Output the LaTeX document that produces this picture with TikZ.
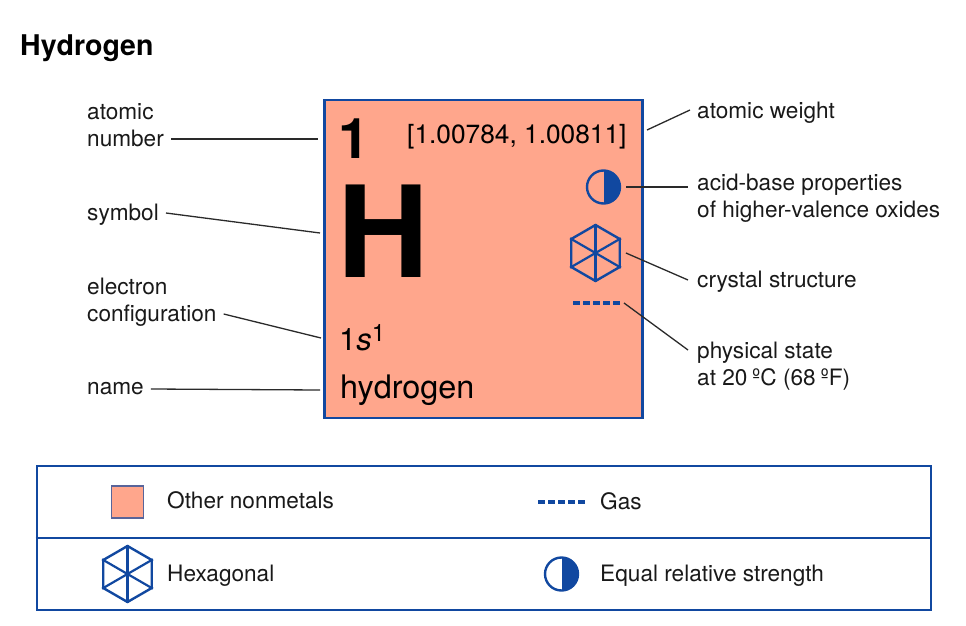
\documentclass[tikz,border=0pt]{standalone}
\usepackage{fontspec}
\setmainfont{TeX Gyre Heros}
\usetikzlibrary{shapes.geometric}
\definecolor{cardblue}{HTML}{1148A0}
\definecolor{cardfill}{HTML}{FFA68C}
\definecolor{leadergray}{HTML}{2A2A2A}
\begin{document}
\begin{tikzpicture}[x=1pt, y=-1pt,
    label/.style ={anchor=west, inner sep=0pt, align=left, text=black!90,
      font=\fontsize{22.6}{27}\selectfont},
    cardtext/.style ={anchor=base west, inner sep=0pt},
    leader/.style ={draw=leadergray, line width=1.3pt},
    box/.style ={draw=cardblue, line width=2.8pt},
    hexicon/.style ={regular polygon, regular polygon sides=6, shape border rotate=30,
      draw=cardblue, line width=2.4pt, minimum size=56pt, inner sep=0pt},
    spoke/.style ={draw=cardblue, line width=2.2pt},
    halficon/.style ={circle, draw=cardblue, line width=2.4pt, minimum size=33pt,
      inner sep=0pt, path picture={\fill[cardblue] (path picture bounding box.south)
      rectangle (path picture bounding box.north east);}},
    gasline/.style ={draw=cardblue, line width=3.6pt, dash pattern=on 6.5pt off 3.5pt}]
   \useasboundingbox (0,0) rectangle (966,626);

   % title
   \node[cardtext, font=\fontsize{28.5}{30}\bfseries\selectfont] (title) at (20,56) {Hydrogen};

   % element card
   \node[box, fill=cardfill, minimum size=318pt, inner sep=0pt] (card) at (483.5,259) {};
   \node[cardtext, font=\fontsize{56}{60}\bfseries\selectfont] (number) at (338,158) {1};
   \node[cardtext, font=\fontsize{26.3}{30}\selectfont] (weight) at (407,143) {[1.00784, 1.00811]};
   \node[cardtext, font=\fontsize{127}{130}\bfseries\selectfont] (symbol) at (337,277) {H};
   \node[cardtext, font=\fontsize{31}{34}\selectfont] (config) at (339,350) {1\textit{s}\raisebox{9pt}{\fontsize{24}{26}\selectfont 1}};
   \node[cardtext, font=\fontsize{32.4}{34}\selectfont] (name) at (340,398) {hydrogen};
   \node[halficon] (halfcard) at (603.5,187) {};
   \node[hexicon] (hexcard) at (595.5,253) {};
   \draw[spoke] (hexcard.corner 1) to (hexcard.corner 4);
   \draw[spoke] (hexcard.corner 2) to (hexcard.corner 5);
   \draw[spoke] (hexcard.corner 3) to (hexcard.corner 6);
   \coordinate (gascardA) at (573,303);
   \coordinate (gascardB) at (620,303);
   \draw[gasline] (gascardA) to (gascardB);

   % labels left
   \node[label] (lnumber) at (87,125) {atomic\\number};
   \node[label] (lsymbol) at (87,215) {symbol};
   \node[label] (lconfig) at (87,302) {electron\\configuration};
   \node[label] (lname) at (87,389) {name};

   % labels right
   \node[label] (lweight) at (697,113) {atomic weight};
   \node[label] (lacid) at (697,198) {acid-base properties\\of higher-valence oxides};
   \node[label] (lcrystal) at (697,282) {crystal structure};
   \node[label] (lstate) at (697,366) {physical state\\at 20\kern-1.5pt{} ºC (68\kern-1.5pt{} ºF)};

   % leader ends at the card
   \coordinate (tnumber) at (318,139);
   \coordinate (tsymbol) at (320,233);
   \coordinate (tconfig) at (321,338);
   \coordinate (tname) at (320,390);
   \coordinate (tweight) at (647,130);

   \draw[leader] ([xshift=7pt,yshift=-14pt]lnumber.east) to (tnumber);
   \draw[leader] ([xshift=7pt,yshift=2pt]lsymbol.east) to (tsymbol);
   \draw[leader] ([xshift=7pt,yshift=-12pt]lconfig.east) to (tconfig);
   \draw[leader] ([xshift=7pt]lname.east) to (tname);
   \draw[leader] (tweight) to ([xshift=-7pt,yshift=3pt]lweight.west);
   \draw[leader] ([xshift=5pt]halfcard.east) to ([xshift=-9pt,yshift=11pt]lacid.west);
   \draw[leader] ([xshift=5pt]hexcard.east) to ([xshift=-9pt,yshift=2pt]lcrystal.west);
   \draw[leader] ([xshift=4pt]gascardB) to ([xshift=-9pt,yshift=16pt]lstate.west);

   % legend
   \node[box, minimum width=894pt, minimum height=144pt, inner sep=0pt] (legend) at (484,538) {};
   \draw[box] (legend.west) to (legend.east);
   \node[draw=cardblue!70!cardfill, line width=1.6pt, fill=cardfill, minimum size=32pt, inner sep=0pt] (swatch) at (127.5,502) {};
   \node[label] (lnonmetal) at (167,500) {Other nonmetals};
   \coordinate (gaskeyA) at (538,502);
   \coordinate (gaskeyB) at (585,502);
   \draw[gasline] (gaskeyA) to (gaskeyB);
   \node[label] (lgas) at (600,501) {Gas};
   \node[hexicon] (hexkey) at (127.5,574) {};
   \draw[spoke] (hexkey.corner 1) to (hexkey.corner 4);
   \draw[spoke] (hexkey.corner 2) to (hexkey.corner 5);
   \draw[spoke] (hexkey.corner 3) to (hexkey.corner 6);
   \node[label] (lhex) at (167,576) {Hexagonal};
   \node[halficon] (halfkey) at (561.5,574) {};
   \node[label] (lequal) at (600,576) {Equal relative strength};
\end{tikzpicture}
\end{document}
